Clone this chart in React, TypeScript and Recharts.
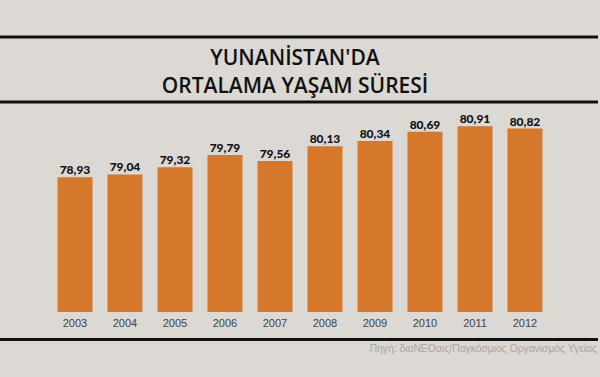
import { BarChart, Bar, XAxis, YAxis, LabelList } from "recharts"

const years = ["2003", "2004", "2005", "2006", "2007", "2008", "2009", "2010", "2011", "2012"]
const lifeExpectancy = [78.93, 79.04, 79.32, 79.79, 79.56, 80.13, 80.34, 80.69, 80.91, 80.82]

const titleLines = ["YUNANİSTAN'DA", "ORTALAMA YAŞAM SÜRESİ"]
const source = "Πηγή: διαΝΕΟσις/Παγκόσμιος Οργανισμός Υγείας"

const data = years.map((year, i) => ({ year, value: lifeExpectancy[i] }))

const fmt = (v: number) => v.toFixed(2).replace(".", ",")

export default function App() {
  return (
    <div
      style={{
        position: "absolute",
        left: 0,
        top: 0,
        width: 600,
        height: 377,
        background: "#dcd8d4",
      }}
    >
      <BarChart
        width={600}
        height={377}
        data={data}
        margin={{ top: 111, right: 50, bottom: 35, left: 50 }}
        barCategoryGap="15%"
      >
        <XAxis
          dataKey="year"
          height={30}
          axisLine={false}
          tickLine={false}
          tickMargin={1}
          interval={0}
          tick={{ fill: "#444", fontSize: 11, fontFamily: "Liberation Sans" }}
        />
        <YAxis hide domain={[73.7, 81.5]} />
        <Bar dataKey="value" fill="#d5782b" isAnimationActive={false}>
          <LabelList
            dataKey="value"
            position="top"
            offset={3}
            formatter={(v: any) => fmt(Number(v))}
            style={{ fill: "#111", fontSize: 12, fontWeight: 900, fontFamily: "Lato" }}
          />
        </Bar>
      </BarChart>

      <svg
        width={600}
        height={377}
        style={{ position: "absolute", left: 0, top: 0, pointerEvents: "none" }}
      >
        <line x1={0} x2={598} y1={37} y2={37} stroke="#111" strokeWidth={3} />
        <line x1={0} x2={598} y1={102} y2={102} stroke="#111" strokeWidth={3} />
        <line x1={0} x2={598} y1={339.5} y2={339.5} stroke="#111" strokeWidth={3} />
        {titleLines.map((t, i) => (
          <text
            key={t}
            x={295}
            y={65 + i * 28}
            textAnchor="middle"
            fill="#111"
            fontSize={21}
            fontWeight={600}
            fontFamily="Open Sans"
          >
            {t}
          </text>
        ))}
        <text
          x={597}
          y={352}
          textAnchor="end"
          fill="#aaa6a2"
          fontSize={10.3}
          fontFamily="Liberation Sans"
        >
          {source}
        </text>
      </svg>
    </div>
  )
}
